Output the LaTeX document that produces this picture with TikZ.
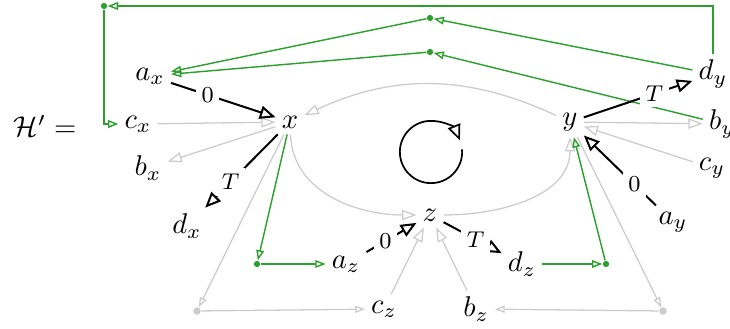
\documentclass[tikz,border=0pt]{standalone}
\usepackage{amsmath, amssymb}
\usepackage{tikz}
\usetikzlibrary{arrows.meta, positioning, calc}
\definecolor{EdgeGreen}{RGB}{44,160,44}
\definecolor{EdgeGray}{RGB}{204,204,204}

\begin{document}
\begin{tikzpicture}[x=0.35pt, y=-0.35pt, every node/.style={inner sep=2pt},
        main/.style={draw=black, line width=0.7pt, -{Triangle[open, length=5.5pt, width=4.6pt]}},
        lbl/.style={fill=white, inner sep=2pt, font=\footnotesize},
        grayedge/.style={draw=EdgeGray, line width=0.45pt, -{Triangle[open, length=5pt, width=3.6pt]}},
        grayroute/.style={draw=EdgeGray, line width=0.45pt, -{Triangle[open, length=3.4pt, width=2.5pt]}},
        greenedge/.style={draw=EdgeGreen, line width=0.5pt, -{Triangle[open, length=3.6pt, width=2.7pt]}},
        gdot/.style={circle, fill=EdgeGreen, inner sep=0pt, minimum size=2.2pt},
        sdot/.style={circle, fill=EdgeGray, inner sep=0pt, minimum size=2.6pt}]
        \useasboundingbox (0,0) rectangle (730,329);

        % Label
        \node (hlabel) at (45,126) {$\mathcal{H}' =$};

        % Main vertices
        \node (x) at (290,122) {$x$};
        \node (y) at (570,122) {$y$};
        \node (z) at (430,215) {$z$};

        % Vertices around x
        \node (ax) at (150,76) {$a_x$};
        \node (cx) at (138,124) {$c_x$};
        \node (bx) at (148,168) {$b_x$};
        \node (dx) at (187,226) {$d_x$};

        % Vertices around y
        \node (dy) at (713,74) {$d_y$};
        \node (by) at (722,124) {$b_y$};
        \node (cy) at (712,168) {$c_y$};
        \node (ay) at (673,222) {$a_y$};

        % Vertices around z
        \node (az) at (346,264) {$a_z$};
        \node (dz) at (522,264) {$d_z$};
        \node (cz) at (384,309) {$c_z$};
        \node (bz) at (476,309) {$b_z$};

        % Bend points
        \node[gdot] (gtl) at (104,6) {};
        \node[gdot] (gt1) at (430,18) {};
        \node[gdot] (gt2) at (430,52) {};
        \node[gdot] (gl) at (257,264) {};
        \node[gdot] (gr) at (606,264) {};
        \node[sdot] (sl) at (197,311) {};
        \node[sdot] (sr) at (663,311) {};

        % Gray edges
        \draw[grayedge] (cx) -- (x);
        \draw[grayedge] (x) -- (bx);
        \draw[grayedge] (y) -- (by);
        \draw[grayedge] (cy) -- (y);
        \draw[grayedge] (cz) -- (z);
        \draw[grayedge] (bz) -- (z);
        \draw[grayedge] (y) to[bend right=25] (x);
        \draw[grayedge] (x) to[out=-88, in=180] (z);
        \draw[grayedge] (z) to[out=0, in=-90] (y);
        \draw[grayroute] (x) -- (sl);
        \draw[grayroute] (sl) -- (cz);
        \draw[grayroute] (y) -- (sr);
        \draw[grayroute] (sr) -- (bz);

        % Green edges
        \draw[greenedge] (dy.north) |- (gtl);
        \draw[greenedge] (gtl) |- (cx);
        \draw[greenedge] (dy) -- (gt1);
        \draw[greenedge] (gt1) -- (ax);
        \draw[greenedge] (by) -- (gt2);
        \draw[greenedge] (gt2) -- (ax);
        \draw[greenedge] (x) -- (gl);
        \draw[greenedge] (gl) -- (az);
        \draw[greenedge] (dz) -- (gr);
        \draw[greenedge] (gr) -- (y);

        % Black edges
        \draw[main] (ax) -- node[lbl, pos=0.35] {$0$} (x);
        \draw[main] (x) -- node[lbl, pos=0.65] {$T$} (dx);
        \draw[main] (y) -- node[lbl, pos=0.65] {$T$} (dy);
        \draw[main] (ay) -- node[lbl, pos=0.3] {$0$} (y);
        \draw[main] (az) -- node[lbl, pos=0.38] {$0$} (z);
        \draw[main] (z) -- node[lbl, pos=0.55] {$T$} (dz);

        % Rotation
        \coordinate (rot) at (431,152);
        \draw[main, line width=0.6pt] ($(rot)+(5:10.9pt)$) arc[start angle=5, end angle=-338, radius=10.9pt];
    \end{tikzpicture}
\end{document}
